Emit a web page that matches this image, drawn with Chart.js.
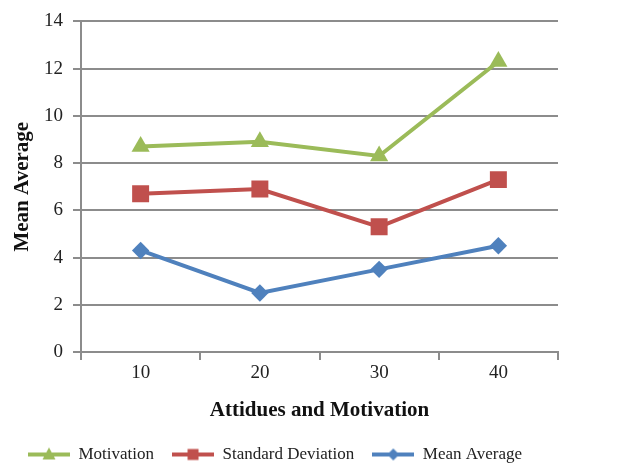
<!DOCTYPE html>
<html><head><meta charset="utf-8">
<script src="https://cdn.jsdelivr.net/npm/chart.js@4"></script>
<style>html,body{margin:0;padding:0;background:#fff}#w{width:622px;height:464px}</style>
</head><body><div id="w"><canvas id="c" width="622" height="464"></canvas></div>
<script>
const categories = ['10', '20', '30', '40'];
const motivation = [8.7, 8.9, 8.3, 12.3];
const standardDeviation = [6.7, 6.9, 5.3, 7.3];
const meanAverage = [4.3, 2.5, 3.5, 4.5];
const yTicks = [0, 2, 4, 6, 8, 10, 12, 14];

const GREEN = '#9BBB59', RED = '#C0504D', BLUE = '#4F81BD';
const FONT = '"Liberation Serif", "DejaVu Serif", serif';

function legendIcon(color, shape) {
  const c = document.createElement('canvas');
  c.width = 42; c.height = 16;
  const x = c.getContext('2d');
  x.strokeStyle = color; x.lineWidth = 4; x.lineCap = 'butt';
  x.beginPath(); x.moveTo(0, 8); x.lineTo(42, 8); x.stroke();
  x.fillStyle = color;
  x.beginPath();
  if (shape === 'triangle') { x.moveTo(21, 1); x.lineTo(27.5, 13); x.lineTo(14.5, 13); }
  else if (shape === 'rect') { x.rect(15.5, 2.5, 11, 11); }
  else { x.moveTo(21, 2); x.lineTo(27, 8); x.lineTo(21, 14); x.lineTo(15, 8); }
  x.closePath(); x.fill();
  return c;
}

const ds = (label, data, color, style, r) => ({
  label, data, borderColor: color, backgroundColor: color,
  borderWidth: 4, pointStyle: style, pointRadius: r,
  pointHoverRadius: r, pointBorderWidth: 0, tension: 0,
  legendIcon: legendIcon(color, style === 'rectRot' ? 'diamond' : style)
});

new Chart(document.getElementById('c'), {
  type: 'line',
  data: {
    labels: categories,
    datasets: [
      ds('Motivation', motivation, GREEN, 'triangle', 10.5),
      ds('Standard Deviation', standardDeviation, RED, 'rect', 12),
      ds('Mean Average', meanAverage, BLUE, 'rectRot', 8.7)
    ]
  },
  options: {
    responsive: false, animation: false,
    layout: { padding: { left: 10, right: 64, top: 18, bottom: -9 } },
    plugins: {
      tooltip: { enabled: false },
      legend: {
        position: 'bottom', align: 'start',
        labels: {
          usePointStyle: true, pointStyleWidth: 42, boxHeight: 16, padding: 18,
          color: '#222', font: { family: FONT, size: 17 },
          generateLabels: (chart) => chart.data.datasets.map((d, i) => ({
            text: d.label, pointStyle: d.legendIcon, fillStyle: d.borderColor,
            strokeStyle: d.borderColor, lineWidth: 0, datasetIndex: i, hidden: false, fontColor: '#222'
          }))
        }
      }
    },
    scales: {
      x: {
        offset: true,
        afterFit: (s) => { s.height = 76; },
        grid: { display: true, drawOnChartArea: false, offset: true, tickLength: 8, color: '#8c8c8c', lineWidth: 2 },
        border: { color: '#8c8c8c', width: 2 },
        ticks: { color: '#222', padding: 2, font: { family: FONT, size: 19 } },
        title: { display: true, text: 'Attidues and Motivation', color: '#111', padding: { top: 0, bottom: 11 }, font: { family: FONT, size: 21, weight: 'bold', lineHeight: 0.57 } }
      },
      y: {
        min: 0, max: 14,
        afterBuildTicks: (s) => { s.ticks = yTicks.map(v => ({ value: v })); },
        afterFit: (s) => { s.width = 71; },
        grid: { color: '#8c8c8c', lineWidth: 2, tickLength: 8 },
        border: { color: '#8c8c8c', width: 2 },
        ticks: { color: '#222', padding: 10, font: { family: FONT, size: 19 } },
        title: { display: true, text: 'Mean Average', color: '#111', padding: { top: 0, bottom: 0 }, font: { family: FONT, size: 21, weight: 'bold' } }
      }
    }
  }
});
</script></body></html>
